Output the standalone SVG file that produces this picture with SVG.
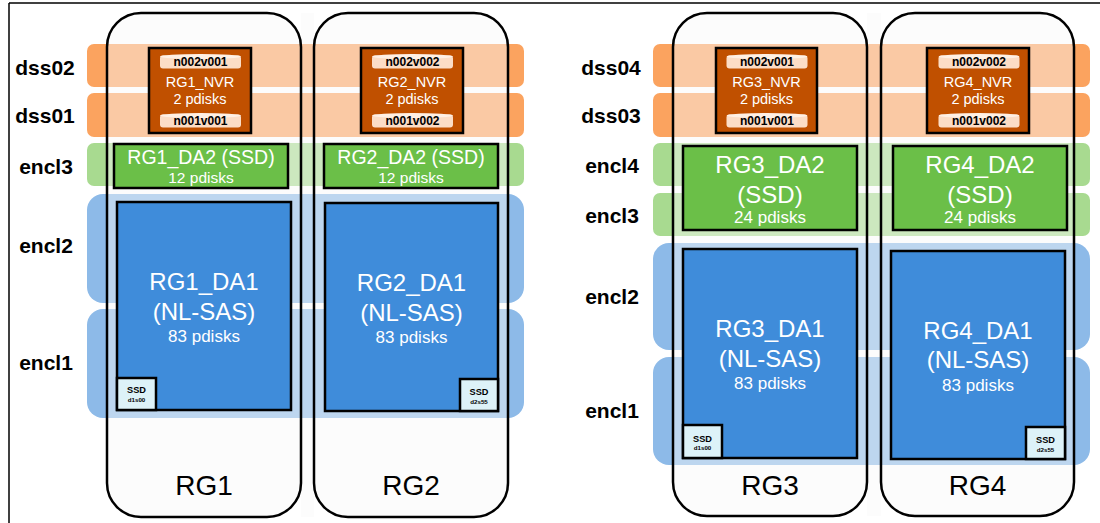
<svg xmlns="http://www.w3.org/2000/svg" width="1100" height="523" viewBox="0 0 1100 523">
  <style>
    .lbl { font-family: "Liberation Sans", Arial, sans-serif; font-weight: bold; font-size: 21px; fill: #000; text-anchor: middle; }
    .rgname { font-family: "Liberation Sans", Arial, sans-serif; font-size: 28px; fill: #000; text-anchor: middle; }
    .band-dss { fill: #FBA35F; }
    .band-ssd { fill: #A8DA90; }
    .band-sas { fill: #8DBAE8; }
    .veil { fill: #F8F8F8; fill-opacity: 0.45; }
    .col { fill: none; stroke: #000; stroke-width: 2.5; }
    .nvr { fill: #C05000; stroke: #000; stroke-width: 2.5; }
    .da2 { fill: #6BBF48; stroke: #000; stroke-width: 2.5; }
    .da1 { fill: #3F8CDA; stroke: #000; stroke-width: 2.5; }
    .ssd { fill: #DDF2F8; stroke: #000; stroke-width: 2.5; }
    .wt { font-family: "Liberation Sans", Arial, sans-serif; fill: #FFFFFF; text-anchor: middle; }
    .pill-body { fill: #FCDDC6; }
    .pill-top { fill: #FFF0E4; }
    .pill-txt { font-family: "Liberation Sans", Arial, sans-serif; font-weight: bold; font-size: 12px; fill: #000; text-anchor: middle; }
    .ssd-t { font-family: "Liberation Sans", Arial, sans-serif; font-weight: bold; font-size: 9.2px; fill: #000; text-anchor: middle; }
    .ssd-s { font-family: "Liberation Sans", Arial, sans-serif; font-weight: bold; font-size: 6.2px; fill: #000; text-anchor: middle; }
  </style>
  <defs>
    <!-- small lying disk: body plus a lighter top rim -->
    <g id="pill">
      <rect x="0" y="1.5" width="81" height="13" rx="3" class="pill-body"/>
      <ellipse cx="40.5" cy="2.5" rx="40.5" ry="2.5" class="pill-top"/>
    </g>
  </defs>

  <rect x="0" y="0" width="1100" height="523" fill="#FFFFFF"/>

  <!-- outer frame (top and left edges) -->
  <g id="frame" stroke="#000" stroke-width="1.5" fill="none">
    <line x1="9" y1="3" x2="1100" y2="3"/>
    <line x1="9" y1="3" x2="9" y2="523"/>
  </g>

  <!-- left building block: rows -->
  <g id="rows-left">
    <rect id="row-dss02" class="band-dss" x="87" y="44" width="437" height="43" rx="7"/>
    <rect id="row-dss01" class="band-dss" x="87" y="93" width="437" height="44" rx="7"/>
    <rect id="row-encl3-l" class="band-ssd" x="87" y="143" width="437" height="43" rx="7"/>
    <rect id="row-encl2-l" class="band-sas" x="87" y="194" width="437" height="109" rx="16"/>
    <rect id="row-encl1-l" class="band-sas" x="87" y="309" width="437" height="109" rx="16"/>
    <text class="lbl" x="45" y="75">dss02</text>
    <text class="lbl" x="45" y="123">dss01</text>
    <text class="lbl" x="46" y="174">encl3</text>
    <text class="lbl" x="46" y="253">encl2</text>
    <text class="lbl" x="46" y="370">encl1</text>
  </g>

  <!-- right building block: rows -->
  <g id="rows-right">
    <rect id="row-dss04" class="band-dss" x="653" y="44" width="437" height="43" rx="7"/>
    <rect id="row-dss03" class="band-dss" x="653" y="93" width="437" height="44" rx="7"/>
    <rect id="row-encl4-r" class="band-ssd" x="653" y="143" width="437" height="43" rx="7"/>
    <rect id="row-encl3-r" class="band-ssd" x="653" y="193" width="437" height="43" rx="7"/>
    <rect id="row-encl2-r" class="band-sas" x="653" y="243" width="437" height="107" rx="16"/>
    <rect id="row-encl1-r" class="band-sas" x="653" y="357" width="437" height="108" rx="16"/>
    <text class="lbl" x="611" y="75">dss04</text>
    <text class="lbl" x="611" y="123">dss03</text>
    <text class="lbl" x="612" y="173">encl4</text>
    <text class="lbl" x="612" y="223">encl3</text>
    <text class="lbl" x="612" y="304">encl2</text>
    <text class="lbl" x="612" y="418">encl1</text>
  </g>

  <!-- translucent recovery-group columns -->
  <g id="veils">
    <rect class="veil" x="107" y="13" width="194" height="504" rx="34"/>
    <rect class="veil" x="301" y="13" width="13" height="504"/>
    <rect class="veil" x="314" y="13" width="194" height="504" rx="34"/>
    <rect class="veil" x="673" y="13" width="194" height="503" rx="34"/>
    <rect class="veil" x="867" y="13" width="14" height="503"/>
    <rect class="veil" x="881" y="13" width="193" height="503" rx="34"/>
  </g>

  <!-- RG1 -->
  <g id="RG1">
    <rect class="col" x="107" y="13" width="194" height="504" rx="34"/>
    <text class="rgname" x="204" y="495">RG1</text>
    <g id="RG1_NVR">
      <rect class="nvr" x="149" y="48" width="102" height="85"/>
      <use href="#pill" x="160" y="54"/>
      <text class="pill-txt" x="200.5" y="66">n002v001</text>
      <text class="wt" x="200" y="87" font-size="14.5">RG1_NVR</text>
      <text class="wt" x="200" y="104" font-size="14.5">2 pdisks</text>
      <use href="#pill" x="160" y="113"/>
      <text class="pill-txt" x="200.5" y="125">n001v001</text>
    </g>
    <g id="RG1_DA2">
      <rect class="da2" x="114" y="144" width="174" height="44"/>
      <text class="wt" x="201" y="164" font-size="19.5">RG1_DA2 (SSD)</text>
      <text class="wt" x="201" y="183" font-size="15.5">12 pdisks</text>
    </g>
    <g id="RG1_DA1">
      <rect class="da1" x="117" y="202" width="174" height="208"/>
      <text class="wt" x="204" y="290" font-size="24">RG1_DA1</text>
      <text class="wt" x="204" y="320" font-size="24">(NL-SAS)</text>
      <text class="wt" x="204" y="342" font-size="17">83 pdisks</text>
      <rect class="ssd" x="117" y="378" width="39" height="32"/>
      <text class="ssd-t" x="136.5" y="393">SSD</text>
      <text class="ssd-s" x="136.5" y="402">d1s00</text>
    </g>
  </g>

  <!-- RG2 -->
  <g id="RG2">
    <rect class="col" x="314" y="13" width="194" height="504" rx="34"/>
    <text class="rgname" x="411" y="495">RG2</text>
    <g id="RG2_NVR">
      <rect class="nvr" x="361" y="48" width="102" height="85"/>
      <use href="#pill" x="372" y="54"/>
      <text class="pill-txt" x="412.5" y="66">n002v002</text>
      <text class="wt" x="412" y="87" font-size="14.5">RG2_NVR</text>
      <text class="wt" x="412" y="104" font-size="14.5">2 pdisks</text>
      <use href="#pill" x="372" y="113"/>
      <text class="pill-txt" x="412.5" y="125">n001v002</text>
    </g>
    <g id="RG2_DA2">
      <rect class="da2" x="324" y="144" width="174" height="44"/>
      <text class="wt" x="411" y="164" font-size="19.5">RG2_DA2 (SSD)</text>
      <text class="wt" x="411" y="183" font-size="15.5">12 pdisks</text>
    </g>
    <g id="RG2_DA1">
      <rect class="da1" x="325" y="203" width="173" height="208"/>
      <text class="wt" x="411.5" y="291" font-size="24">RG2_DA1</text>
      <text class="wt" x="411.5" y="321" font-size="24">(NL-SAS)</text>
      <text class="wt" x="411.5" y="343" font-size="17">83 pdisks</text>
      <rect class="ssd" x="460" y="379" width="38" height="32"/>
      <text class="ssd-t" x="479" y="395">SSD</text>
      <text class="ssd-s" x="479" y="404">d2s55</text>
    </g>
  </g>

  <!-- RG3 -->
  <g id="RG3">
    <rect class="col" x="673" y="13" width="194" height="503" rx="34"/>
    <text class="rgname" x="770" y="495">RG3</text>
    <g id="RG3_NVR">
      <rect class="nvr" x="716" y="48" width="101" height="85"/>
      <use href="#pill" x="726.5" y="54"/>
      <text class="pill-txt" x="767" y="66">n002v001</text>
      <text class="wt" x="766.5" y="87" font-size="14.5">RG3_NVR</text>
      <text class="wt" x="766.5" y="104" font-size="14.5">2 pdisks</text>
      <use href="#pill" x="726.5" y="113"/>
      <text class="pill-txt" x="767" y="125">n001v001</text>
    </g>
    <g id="RG3_DA2">
      <rect class="da2" x="683" y="146" width="174" height="84"/>
      <text class="wt" x="770" y="173" font-size="24">RG3_DA2</text>
      <text class="wt" x="770" y="203" font-size="24">(SSD)</text>
      <text class="wt" x="770" y="223" font-size="17">24 pdisks</text>
    </g>
    <g id="RG3_DA1">
      <rect class="da1" x="683" y="249" width="174" height="209"/>
      <text class="wt" x="770" y="337" font-size="24">RG3_DA1</text>
      <text class="wt" x="770" y="367" font-size="24">(NL-SAS)</text>
      <text class="wt" x="770" y="389" font-size="17">83 pdisks</text>
      <rect class="ssd" x="683" y="425" width="39" height="33"/>
      <text class="ssd-t" x="702.5" y="442">SSD</text>
      <text class="ssd-s" x="702.5" y="450">d1s00</text>
    </g>
  </g>

  <!-- RG4 -->
  <g id="RG4">
    <rect class="col" x="881" y="13" width="193" height="503" rx="34"/>
    <text class="rgname" x="977.5" y="495">RG4</text>
    <g id="RG4_NVR">
      <rect class="nvr" x="927" y="48" width="102" height="85"/>
      <use href="#pill" x="938.5" y="54"/>
      <text class="pill-txt" x="979" y="66">n002v002</text>
      <text class="wt" x="978" y="87" font-size="14.5">RG4_NVR</text>
      <text class="wt" x="978" y="104" font-size="14.5">2 pdisks</text>
      <use href="#pill" x="938.5" y="113"/>
      <text class="pill-txt" x="979" y="125">n001v002</text>
    </g>
    <g id="RG4_DA2">
      <rect class="da2" x="893" y="146" width="174" height="84"/>
      <text class="wt" x="980" y="173" font-size="24">RG4_DA2</text>
      <text class="wt" x="980" y="203" font-size="24">(SSD)</text>
      <text class="wt" x="980" y="223" font-size="17">24 pdisks</text>
    </g>
    <g id="RG4_DA1">
      <rect class="da1" x="891" y="251" width="174" height="208"/>
      <text class="wt" x="978" y="339" font-size="24">RG4_DA1</text>
      <text class="wt" x="978" y="368" font-size="24">(NL-SAS)</text>
      <text class="wt" x="978" y="391" font-size="17">83 pdisks</text>
      <rect class="ssd" x="1026" y="427" width="39" height="32"/>
      <text class="ssd-t" x="1045.5" y="443">SSD</text>
      <text class="ssd-s" x="1045.5" y="452">d2s55</text>
    </g>
  </g>

  <!-- no connectors in this layout -->
  <g id="connectors"/>
</svg>
